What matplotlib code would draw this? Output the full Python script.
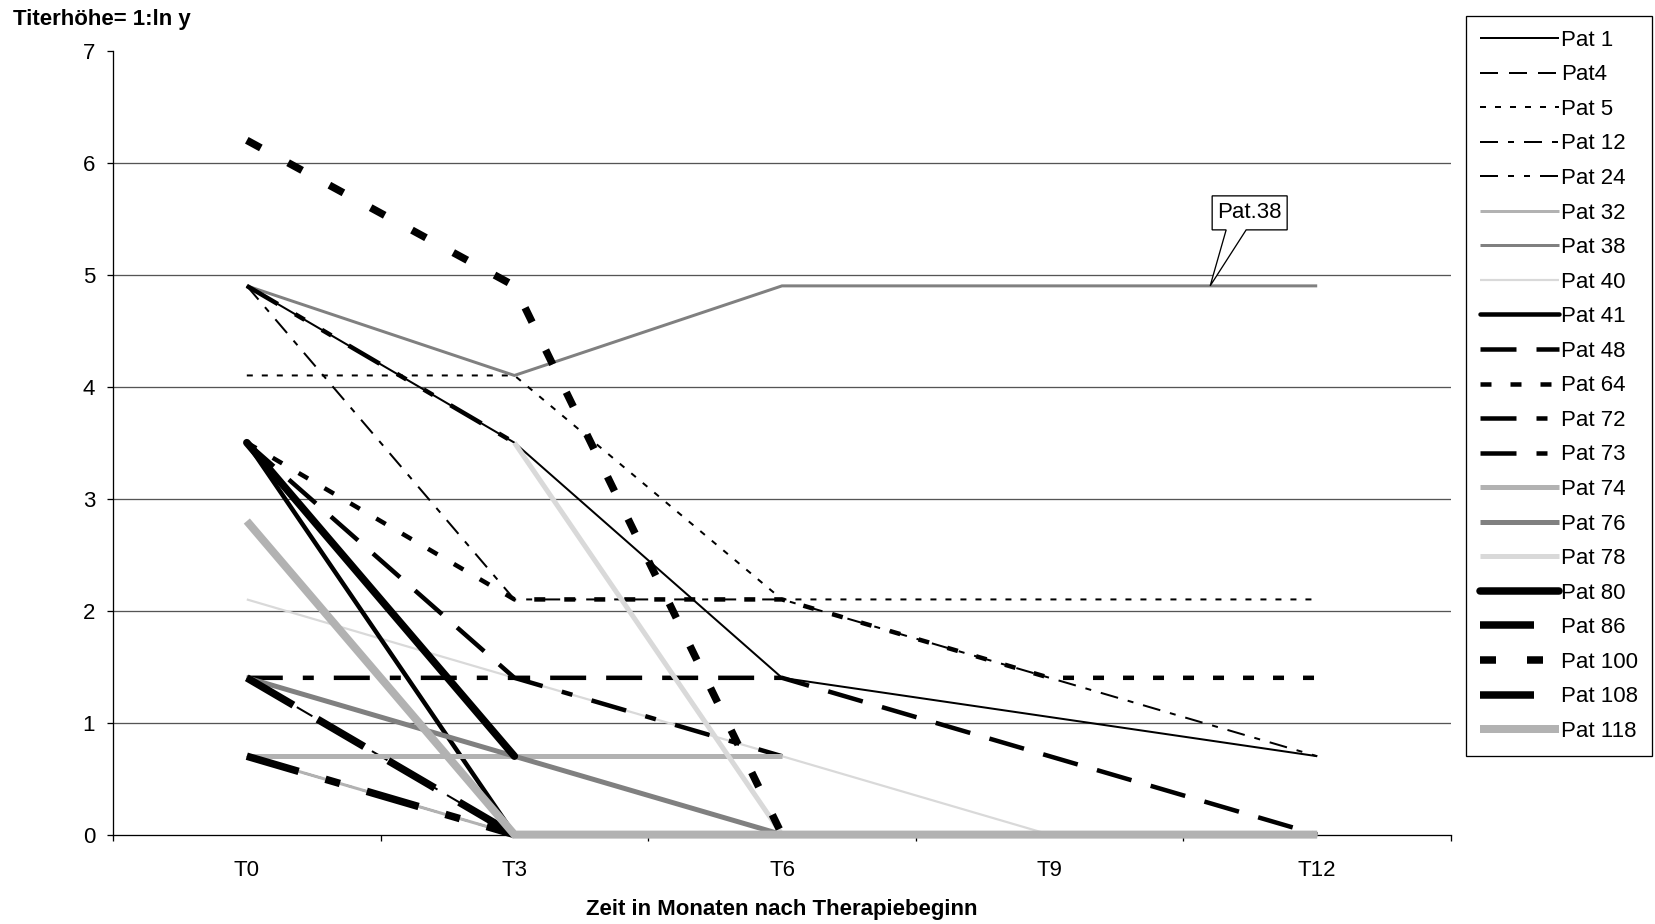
import matplotlib
matplotlib.use('Agg')
import matplotlib.pyplot as plt
from matplotlib.path import Path
from matplotlib.patches import PathPatch
import matplotlib.transforms as mtransforms

plt.rcParams['font.family'] = ['Liberation Sans', 'DejaVu Sans']
plt.rcParams['lines.scale_dashes'] = False

# ---------------- data ----------------
timepoints = ['T0', 'T3', 'T6', 'T9', 'T12']
y_ticks = [0, 1, 2, 3, 4, 5, 6, 7]
N = None
pat_1 = [4.9, 3.5, 1.4, N, 0.7]
pat_4 = [1.4, 0.0, N, N, N]
pat_5 = [4.1, 4.1, 2.1, 2.1, 2.1]
pat_12 = [4.9, 2.1, 2.1, N, 0.7]
pat_24 = [0.7, 0.0, N, N, N]
pat_32 = [0.7, 0.0, 0.0, 0.0, 0.0]
pat_38 = [4.9, 4.1, 4.9, 4.9, 4.9]
pat_40 = [2.1, 1.4, 0.7, 0.0, 0.0]
pat_41 = [3.5, 0.0, N, N, N]
pat_48 = [3.5, 1.4, 1.4, N, 0.0]
pat_64 = [3.5, 2.1, 2.1, 1.4, 1.4]
pat_72 = [1.4, 1.4, 0.7, N, N]
pat_73 = [4.9, 3.5, N, N, N]
pat_74 = [0.7, 0.7, 0.7, N, N]
pat_76 = [1.4, 0.7, 0.0, 0.0, 0.0]
pat_78 = [N, 3.5, 0.0, 0.0, 0.0]
pat_80 = [3.5, 0.7, N, N, N]
pat_86 = [1.4, 0.0, N, N, N]
pat_100 = [6.2, 4.9, 0.0, N, N]
pat_108 = [0.7, 0.0, N, N, N]
pat_118 = [2.8, 0.0, 0.0, 0.0, 0.0]

labels = ['Pat 1', 'Pat4', 'Pat 5', 'Pat 12', 'Pat 24', 'Pat 32', 'Pat 38',
          'Pat 40', 'Pat 41', 'Pat 48', 'Pat 64', 'Pat 72', 'Pat 73', 'Pat 74',
          'Pat 76', 'Pat 78', 'Pat 80', 'Pat 86', 'Pat 100', 'Pat 108', 'Pat 118']
series = [pat_1, pat_4, pat_5, pat_12, pat_24, pat_32, pat_38, pat_40, pat_41,
          pat_48, pat_64, pat_72, pat_73, pat_74, pat_76, pat_78, pat_80, pat_86,
          pat_100, pat_108, pat_118]
callout_text = 'Pat.38'
callout_x, callout_y = 3.6, 4.9

# ---------------- styles (pixels) ----------------
K = 'black'
G1, G2, G3 = '#b2b2b2', '#808080', '#d9d9d9'
# (color, linewidth px, dash pattern px or None)
styles = [
    (K, 2.0, None),
    (K, 2.0, (18, 11)),
    (K, 2.0, (6, 9)),
    (K, 2.0, (18, 10, 6, 10)),
    (K, 2.0, (18, 10, 6, 10, 6, 10)),
    (G1, 3.0, None),
    (G2, 3.0, None),
    (G3, 2.2, None),
    (K, 4.5, None),
    (K, 4.5, (36, 20)),
    (K, 4.5, (11, 19)),
    (K, 4.5, (36, 20, 11, 20)),
    (K, 4.5, (36, 20, 11, 20, 11, 20)),
    (G1, 5.0, None),
    (G2, 5.0, None),
    (G3, 5.0, None),
    (K, 7.5, None),
    (K, 7.5, (54, 28)),
    (K, 7.5, (16, 31)),
    (K, 7.5, (54, 28, 15, 28)),
    (G1, 8.0, None),
]
PT = 0.72  # px -> pt at 100 dpi

W, H = 1655, 924
fig = plt.figure(figsize=(W / 100, H / 100), dpi=100)
ax_l, ax_r, ax_t, ax_b = 113, 1451, 50.7, 834.6
ax = fig.add_axes([ax_l / W, 1 - ax_b / H, (ax_r - ax_l) / W, (ax_b - ax_t) / H])

x_idx = list(range(len(timepoints)))
handles = []
for i, (lab, vals, st) in enumerate(zip(labels, series, styles)):
    col, lw, dash = st
    xs = [x for x, v in zip(x_idx, vals) if v is not None]
    ys = [v for v in vals if v is not None]
    kw = dict(color=col, lw=lw * PT, zorder=3 + i * 0.01, clip_on=False,
              solid_capstyle='butt', dash_capstyle='butt', solid_joinstyle='miter')
    if lab in ('Pat 80', 'Pat 41'):
        kw['solid_capstyle'] = 'round'
        kw['solid_joinstyle'] = 'round'
    ln, = ax.plot(xs, ys, label=lab, **kw)
    if dash is not None:
        ln.set_dashes([d * PT for d in dash])
    handles.append(ln)

ax.set_xlim(-0.5, len(timepoints) - 0.5)
ax.set_ylim(0, 7)
for s in ('top', 'right'):
    ax.spines[s].set_visible(False)
for s in ('left', 'bottom'):
    ax.spines[s].set_linewidth(1.3 * PT)
    ax.spines[s].set_color('black')
    ax.spines[s].set_zorder(2.5)

for yv in y_ticks[1:-1]:
    ax.axhline(yv, color='#555555', lw=1.3 * PT, zorder=1)

ax.set_yticks(y_ticks)
ax.tick_params(axis='y', direction='out', length=6 * PT, width=1.3 * PT,
               pad=12 * PT, labelsize=16)
ax.set_xticks([x - 0.5 for x in x_idx] + [len(x_idx) - 0.5])
ax.set_xticklabels([])
ax.set_xticks(x_idx, minor=True)
ax.set_xticklabels(timepoints, minor=True)
ax.tick_params(axis='x', which='major', direction='out', length=6 * PT, width=1.3 * PT)
ax.tick_params(axis='x', which='minor', length=0, pad=25 * PT, labelsize=16)

fig.text(13 / W, 1 - 19 / H, 'Titerhöhe= 1:ln y', fontsize=16, fontweight='bold',
         ha='left', va='center')
fig.text(((ax_l + ax_r) / 2) / W, 1 - 910 / H, 'Zeit in Monaten nach Therapiebeginn',
         fontsize=16, fontweight='bold', ha='center', va='center')

# callout with pointer
tr = fig.dpi_scale_trans + mtransforms.ScaledTranslation(callout_x, callout_y, ax.transData)
pts = [(2, 56), (2, 90), (77, 90), (77, 56), (36, 56), (0, 0), (16, 56), (2, 56)]
verts = [(px / 100, py / 100) for px, py in pts]
codes = [Path.MOVETO] + [Path.LINETO] * (len(verts) - 2) + [Path.CLOSEPOLY]
ax.add_patch(PathPatch(Path(verts, codes), transform=tr, facecolor='white',
                       edgecolor='black', lw=1.3 * PT, zorder=10, clip_on=False))
ax.text(39.5 / 100, 73 / 100, callout_text, transform=tr, fontsize=16,
        ha='center', va='center', zorder=11)

leg = fig.legend(handles=handles, loc='upper left',
                 bbox_to_anchor=(1466 / W, 1 - 16 / H), borderaxespad=0,
                 fontsize=16, handlelength=3.55, handletextpad=0.1,
                 labelspacing=0.61, borderpad=0.62, fancybox=False,
                 frameon=True, edgecolor='black', framealpha=1)
leg.get_frame().set_linewidth(1.3 * PT)

fig.savefig('out.png', dpi=100)
